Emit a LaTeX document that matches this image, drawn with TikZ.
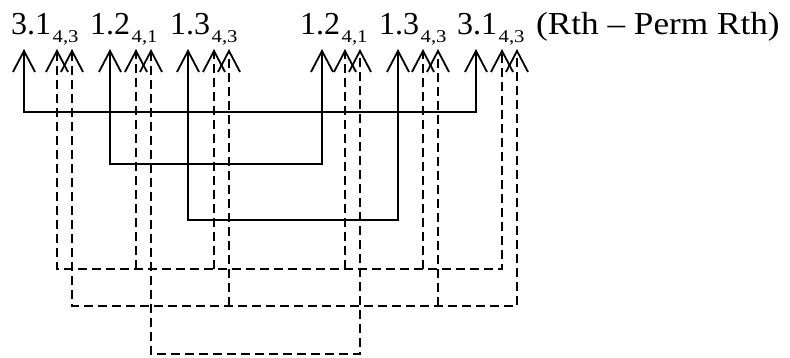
\documentclass[tikz,border=0pt]{standalone}
\usepackage{fontspec}
\setmainfont{Liberation Serif}
\newfontfamily\subfont[FakeStretch=1.15]{Liberation Serif}
\newfontfamily\widefont[FakeStretch=1.1]{Liberation Serif}
\usetikzlibrary{arrows.meta}
\newcommand{\lbl}[2]{{\fontsize{32}{32}\selectfont #1}\kern1.5pt\raisebox{-7.5pt}{\subfont\fontsize{18}{18}\selectfont #2}}
\begin{document}
\begin{tikzpicture}[x=1pt,y=-1pt,
  lab/.style={anchor=base west,inner sep=0pt},
  wire/.style={line width=1.8pt},
  dwire/.style={line width=1.8pt,dash pattern=on 9pt off 5pt},
  barb/.tip={Straight Barb[length=21pt,width=22pt]},
  tipend/.style={-barb},
  tipboth/.style={barb-barb}]
\useasboundingbox (0,0) rectangle (790,358);
% labels
\node[lab] (l1) at (11,35) {\lbl{3.1}{4,3}};
\node[lab] (l2) at (90,35) {\lbl{1.2}{4,1}};
\node[lab] (l3) at (170,35) {\lbl{1.3}{4,3}};
\node[lab] (l4) at (300,35) {\lbl{1.2}{4,1}};
\node[lab] (l5) at (379,35) {\lbl{1.3}{4,3}};
\node[lab] (l6) at (457,35) {\lbl{3.1}{4,3}};
\node[lab] (title) at (536,35) {\widefont\fontsize{32}{32}\selectfont (Rth – Perm Rth)};
% tips
\foreach \n/\x in {s1/24,s2/110,s3/188,s4/322,s5/398,s6/476,
  d1/57,d2/72,d3/136,d4/151,d5/214,d6/229,d7/345,d8/360,d9/423,d10/438,d11/502,d12/517}
  \coordinate (\n) at (\x,49);
% bus rows
\coordinate (A) at (0,112);
\coordinate (B) at (0,164);
\coordinate (C) at (0,220);
\coordinate (D) at (0,269);
\coordinate (E) at (0,306);
\coordinate (F) at (0,354);
% solid connectors
\draw[wire,tipboth] (s1) -- (s1|-A) -- (s6|-A) -- (s6);
\draw[wire,tipboth] (s2) -- (s2|-B) -- (s4|-B) -- (s4);
\draw[wire,tipboth] (s3) -- (s3|-C) -- (s5|-C) -- (s5);
% dashed connectors
\draw[dwire,tipboth] (d1) -- (d1|-D) -- (d11|-D) -- (d11);
\foreach \n in {d3,d5,d7,d9}
  \draw[dwire,tipend] (\n|-D) -- (\n);
\draw[dwire,tipboth] (d2) -- (d2|-E) -- (d12|-E) -- (d12);
\foreach \n in {d6,d10}
  \draw[dwire,tipend] (\n|-E) -- (\n);
\draw[dwire,tipboth] (d4) -- (d4|-F) -- (d8|-F) -- (d8);
\end{tikzpicture}
\end{document}
